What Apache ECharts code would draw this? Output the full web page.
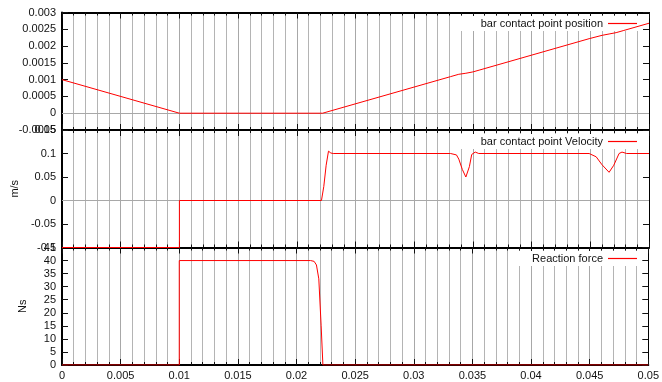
<!DOCTYPE html>
<html>
<head>
<meta charset="utf-8">
<script src="https://cdn.jsdelivr.net/npm/echarts@6/dist/echarts.min.js"></script>
<style>
  html, body { margin: 0; padding: 0; background: #fff; }
  #chart { width: 662px; height: 382px; }
</style>
</head>
<body>
<div id="chart"></div>
<script>
// Time axis (s)
const xTicks = { min: 0, max: 0.05, interval: 0.005 };

// Bar contact point position (m)
const positionTime  = [0, 0.01, 0.0222, 0.0331, 0.0338, 0.0344, 0.0350, 0.0356, 0.0449, 0.0460, 0.0466, 0.0472, 0.0478, 0.05];
const positionValue = [0.001, 0, 0, 0.00109, 0.00116, 0.00119, 0.00123, 0.00129, 0.00222, 0.00232, 0.00236, 0.00240, 0.00246, 0.00268];

// Bar contact point velocity (m/s)
const velocityTime  = [0, 0.01, 0.01, 0.0221, 0.0223, 0.0225, 0.0227, 0.0229, 0.0231,
                       0.0331, 0.0336, 0.0338, 0.0341, 0.0344, 0.0347, 0.0349, 0.0352, 0.0355,
                       0.0449, 0.0455, 0.0460, 0.0466, 0.0470, 0.04745, 0.0477, 0.0481, 0.05];
const velocityValue = [-0.1, -0.1, 0, 0, 0.03, 0.075, 0.105, 0.101, 0.1,
                       0.1, 0.097, 0.088, 0.066, 0.05, 0.072, 0.098, 0.103, 0.1,
                       0.1, 0.093, 0.076, 0.06, 0.075, 0.1, 0.103, 0.1, 0.1];

// Reaction force (Ns)
const forceTime  = [0, 0.01, 0.01, 0.0212, 0.0215, 0.0217, 0.0219, 0.0221, 0.02225, 0.05];
const forceValue = [0, 0, 40, 40, 39.7, 38.3, 33, 15, 0, 0];

// Y ranges per panel
const positionAxis = { min: -0.0005, max: 0.003, interval: 0.0005 };
const velocityAxis = { min: -0.1, max: 0.15, interval: 0.05 };
const forceAxis    = { min: 0, max: 45, interval: 5 };

const seriesNames = ['bar contact point position', 'bar contact point Velocity', 'Reaction force'];

const zip = (xs, ys) => xs.map((x, i) => [x, ys[i]]);
const fmt = v => String(+(+v).toFixed(6));

const FONT = 'Liberation Sans';
const tops = [12.5, 130, 247.5];
const panelH = 117.5;

const grids = tops.map(t => ({
  left: 62, width: 587, top: t, height: panelH, containLabel: false
}));

function xAxisPair(g, showLabel) {
  const common = {
    type: 'value', gridIndex: g,
    min: xTicks.min, max: xTicks.max, interval: xTicks.interval,
    axisLine: { show: true, onZero: false, lineStyle: { color: '#000', width: 2 } },
    axisTick: { show: true, inside: true, length: 6, lineStyle: { color: '#111' } },
    minorTick: { show: true, splitNumber: 5, length: 3, lineStyle: { color: '#111' } }
  };
  return [
    Object.assign({}, common, {
      position: 'bottom',
      axisLabel: { show: showLabel, margin: 5, color: '#111', fontFamily: FONT, fontSize: 11, formatter: fmt },
      splitLine: { show: true, lineStyle: { color: '#a8a8a8', width: 1 } },
      minorSplitLine: { show: true, lineStyle: { color: '#b4b4b4', width: 1 } }
    }),
    Object.assign({}, common, {
      position: 'top',
      axisLabel: { show: false },
      splitLine: { show: false },
      minorSplitLine: { show: false }
    })
  ];
}

function yAxisPair(g, range, name, gap) {
  const common = {
    type: 'value', gridIndex: g,
    min: range.min, max: range.max, interval: range.interval,
    splitLine: { show: false },
    axisTick: { show: true, inside: true, length: 6, lineStyle: { color: '#111' } }
  };
  return [
    Object.assign({}, common, {
      position: 'left',
      name: name, nameLocation: 'middle', nameGap: gap,
      nameTextStyle: { color: '#111', fontFamily: FONT, fontSize: 11 },
      axisLine: { show: true, onZero: false, lineStyle: { color: '#000', width: 2 } },
      axisLabel: { show: true, margin: 6, color: '#111', fontFamily: FONT, fontSize: 11, formatter: fmt }
    }),
    Object.assign({}, common, {
      position: 'right',
      axisLine: { show: true, onZero: false, lineStyle: { color: '#000', width: 1 } },
      axisLabel: { show: false }
    })
  ];
}

const xAxes = [].concat(xAxisPair(0, false), xAxisPair(1, false), xAxisPair(2, true));
const yAxes = [].concat(
  yAxisPair(0, positionAxis, '', 0),
  yAxisPair(1, velocityAxis, 'm/s', 38),
  yAxisPair(2, forceAxis, 'Ns', 34)
);

function curve(name, g, xs, ys) {
  return {
    name: name, type: 'line', xAxisIndex: g * 2, yAxisIndex: g * 2,
    data: zip(xs, ys), showSymbol: false, symbol: 'none', z: 6,
    lineStyle: { color: '#ff0000', width: 1 }, itemStyle: { color: '#ff0000' },
    animation: false
  };
}

// Thin grey line along y = 0
function zeroLine(g) {
  return {
    type: 'line', xAxisIndex: g * 2, yAxisIndex: g * 2, data: [], z: 1, silent: true,
    markLine: {
      z: 1, silent: true, symbol: 'none', animation: false, label: { show: false },
      lineStyle: { color: '#a8a8a8', type: 'solid', width: 1 },
      data: [{ yAxis: 0 }]
    }
  };
}

function legendFor(i, top) {
  return {
    data: [seriesNames[i]], right: 21, top: top, z: 2,
    align: 'right', orient: 'vertical',
    icon: 'rect', itemWidth: 29, itemHeight: 1.2,
    backgroundColor: '#fff', padding: [2, 4, 2, 22],
    textStyle: { color: '#111', fontFamily: FONT, fontSize: 11 },
    selectedMode: false
  };
}

const chart = echarts.init(document.getElementById('chart'), null, { renderer: 'canvas' });
chart.setOption({
  animation: false,
  backgroundColor: '#fff',
  grid: grids,
  xAxis: xAxes,
  yAxis: yAxes,
  legend: [legendFor(0, 16), legendFor(1, 134), legendFor(2, 251)],
  series: [
    zeroLine(0),
    zeroLine(1),
    curve(seriesNames[0], 0, positionTime, positionValue),
    curve(seriesNames[1], 1, velocityTime, velocityValue),
    curve(seriesNames[2], 2, forceTime, forceValue)
  ]
});
</script>
</body>
</html>
